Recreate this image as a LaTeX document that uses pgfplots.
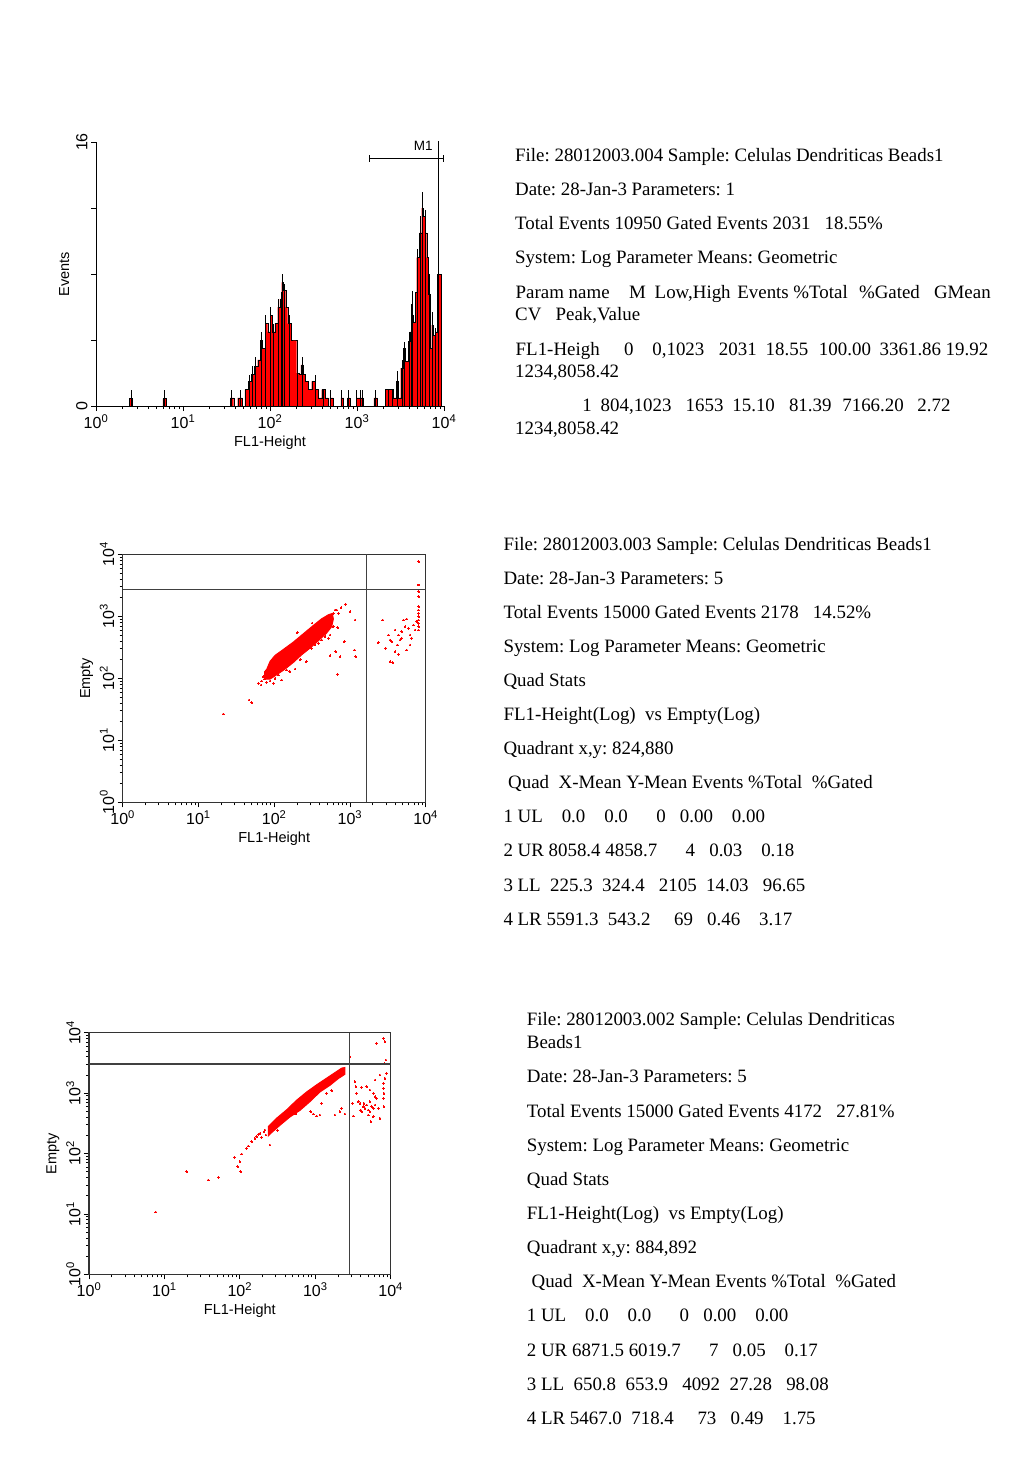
\documentclass[border=0pt]{standalone}
\usepackage{fontspec}
\setmainfont{Liberation Serif}
\setsansfont{Liberation Sans}
\usepackage{pgfplots}
\pgfplotsset{compat=1.18}
\frenchspacing
\newcommand\tf{\fontsize{18.9}{22}\selectfont}
\newcommand\tok[2]{\rlap{\hspace*{#1pt}#2}}
\newcommand\dec[1]{10\textsuperscript{#1}}
\pgfplotsset{
  facs/.style={
    scale only axis, xmin=0, xmax=1024,
    xtick={0,256,512,768,1024},
    xticklabels={\dec{0},\dec{1},\dec{2},\dec{3},\dec{4}},
    minor xtick={77.1,122.1,154.1,178.9,199.2,216.3,231.2,244.3,333.1,378.1,410.1,434.9,455.2,472.3,487.2,500.3,589.1,634.1,666.1,690.9,711.2,728.3,743.2,756.3,845.1,890.1,922.1,946.9,967.2,984.3,999.2,1012.3},
    tick align=outside, xtick pos=left, ytick pos=left,
    major tick length=5pt, minor tick length=3pt,
    every tick/.style={black, line width=0.8pt},
    ticklabel style={font=\fontsize{16}{18}\sffamily},
    label style={font=\fontsize{14.5}{17}\sffamily},
    yticklabel style={rotate=90, anchor=south},
    xlabel={FL1-Height},
    clip mode=individual,
  },
  scat/.style={
    facs, ymin=0, ymax=1024,
    ytick={0,256,512,768,1024},
    yticklabels={\dec{0},\dec{1},\dec{2},\dec{3},\dec{4}},
    minor ytick={77.1,122.1,154.1,178.9,199.2,216.3,231.2,244.3,333.1,378.1,410.1,434.9,455.2,472.3,487.2,500.3,589.1,634.1,666.1,690.9,711.2,728.3,743.2,756.3,845.1,890.1,922.1,946.9,967.2,984.3,999.2,1012.3},
    axis line style={black!80, line width=1.3pt},
    ylabel={Empty},
  },
  dots/.style={red, only marks, mark=*, mark size=0.9pt, mark options={fill=red, draw=red, line width=0pt}},
  quad/.style={black!75, line width=1.3pt, mark=none},
}
\begin{document}
\begin{tikzpicture}
\path[use as bounding box] (0,0) rectangle (1024pt,-1479pt);

% ---------------- Histogram ----------------
\begin{axis}[facs, at={(96pt,-406pt)}, anchor=south west,
  width=348pt, height=264pt, ymin=0, ymax=16,
  axis x line*=bottom, axis y line*=left,
  axis line style={-, black, line width=1pt},
  ytick={0,4,8,12,16}, yticklabels={0,,,,16},
  ylabel={Events}]
\addplot[const plot, fill=red, draw=black, line width=0.35pt] coordinates {
(98.6,0.45)(107.4,0)(197.1,0.45)(206,0)(394.3,0.5)(405.2,0)(417,0.5)(430.5,0)
(438.4,1.0)(448.1,1.5)(456.1,1.9)(465.8,2.4)(475.8,2.8)(482.6,4.0)(489.3,3.5)
(497.3,5.0)(505.2,4.5)(512,5.5)(518.8,4.5)(526.7,5.0)(534.6,6.0)(541.4,6.5)
(546.4,7.5)(551.1,7.0)(558.2,6.0)(564.1,5.0)(573.8,4.0)(583.5,4.0)(590.6,2.0)
(597.3,1.9)(603.2,2.5)(610,1.9)(615,1.5)(623.8,1.0)(634.7,1.5)(644.4,1.0)
(654.1,0.5)(664.1,1.0)(673.8,0.5)(683.5,0)(688.5,0.5)(697.4,0)(720.9,0.5)
(728.3,0)(740,0.5)(747.4,0)(766.5,0.5)(787.1,0)(818,0.5)(828.3,0)(850.4,1.0)
(874.8,0.5)(882.8,1.5)(889.5,0.5)(896.6,2.3)(904.2,3.5)(909.2,2.7)(918.9,3.9)
(923.9,4.5)(928.9,5.5)(933.6,5.1)(938.7,6.9)(943.7,9.0)(951.3,10.5)(958.4,12.0)
(963.1,11.5)(968.1,10.5)(973.1,9.0)(977.8,6.8)(982.8,3.5)(987.8,4.9)(992.5,4.3)
(997.5,4.5)(1004.3,8.0)(1015.2,0)} \closedcycle;
\addplot[ycomb, black, line width=0.45pt, mark=none, restrict y to domain*=0:16.2] coordinates {
(103,1)(202.1,1)(399.3,1)(423.7,1)(451.1,1.9)(459.9,2.4)(469.9,3)(485.5,4.5)
(499.3,5.5)(512,6)(522.9,5)(536.4,6.5)(544.4,6.9)(547.3,8)(554.1,7.4)(567.9,5.5)
(593.5,3)(607,3)(644.4,1.9)(668.8,1)(688.5,1)(723,1)(742.4,1)(767.1,1)(776.8,1)
(784.8,1)(822.4,1)(859.2,1)(871,1)(886.6,2.1)(900.4,2.8)(907.2,3.9)(921.9,4.5)
(928.9,6.2)(931.9,7)(945.4,9.5)(955.4,11.5)(960.1,13)(968.1,11.9)(980.7,8)
(990.8,5.7)(998.4,4.7)(1006.3,10.4)(1008.4,1234)};
\addplot[black, line width=0.9pt, mark=none, |-|] coordinates {(804,15.0)(1023,15.0)};
\node[font=\fontsize{13.5}{15}\sffamily] at (axis cs:963,15.75) {M1};
\end{axis}

% ---------------- Scatter 1 ----------------
\begin{axis}[scat, at={(122.7pt,-802.3pt)}, anchor=south west, width=303pt, height=248pt]
\addplot[fill=red, draw=red, line width=1pt] coordinates {
(480,540)(486.6,548.6)(497.9,581.7)(514.8,606.5)(542.9,631.2)(576.7,661.5)(610.5,695.9)
(644.3,730.3)(672.5,757.8)(695.0,774.3)(708.6,779.9)(711.9,756.8)(706.3,725.3)
(689.4,699.3)(661.2,667.0)(633.1,636.7)(604.9,609.2)(576.7,577.6)(548.6,550.0)
(520.4,526.6)(497.9,508.7)(480,508.7)} -- cycle;
\addplot[dots] coordinates {
(458.5,491.2)(469.7,500.8)(478.7,509.1)(467.5,484.3)(486.6,495.3)(497.9,500.8)
(509.2,491.2)(537.3,505.0)(486.6,525.6)(475.4,518.7)(514.8,511.8)(526.1,525.6)
(554.2,546.2)(582.4,550.3)(426.9,422.4)(435.9,411.4)(340.2,364.6)
(717.6,794.0)(723.2,794.0)(737.9,803.6)(753.7,817.4)(728.9,780.2)(768.3,787.1)
(785.2,752.7)(712.0,725.2)(726.6,721.0)(700.7,690.7)(683.8,683.9)(672.5,670.1)
(650.0,649.5)(661.3,656.3)(638.7,635.7)(695.1,677.0)(749.2,663.2)(700.7,605.4)
(719.9,621.9)(734.5,601.3)(783.0,628.8)(787.5,601.3)(726.6,528.3)(712.0,780.2)
(704.1,770.6)(620,580)(600,590)(565,540)(530,560)(505,560)(640,740)(590,700)
(878.7,752.7)(864.1,659.1)(903.5,670.1)(909.2,663.2)(888.9,635.7)(920.4,621.9)
(931.7,610.9)(903.5,580.6)(912.5,576.5)(928.3,649.5)(937.3,670.1)(942.9,704.5)
(948.6,752.7)(959.9,756.8)(954.2,725.2)(965.5,718.3)(971.1,690.7)(976.8,677.0)
(982.4,732.0)(988.0,711.4)(993.6,745.8)(971.1,649.5)(959.9,628.8)(942.9,677.0)
(931.7,690.7)(920.4,711.4)(897.9,690.7)
(1000,849.0)(1000,807.7)(1000,794.0)(1000,780.2)(1000,766.4)(1000,752.7)
(1000,738.9)(1000,725.2)(1000,711.4)(1000,993.7)(1000,897.3)(1000,870)};
\addplot[quad] coordinates {(824,0)(824,1024)};
\addplot[quad] coordinates {(0,880)(1024,880)};
\end{axis}

% ---------------- Scatter 2 ----------------
\begin{axis}[scat, at={(89pt,-1274.3pt)}, anchor=south west, width=301.7pt, height=241.6pt]
\addplot[fill=red, draw=red, line width=1pt] coordinates {
(608.7,626.6)(637.0,661.9)(670.9,697.3)(704.8,738)(738.8,773)(772.7,803.2)
(806.6,831.5)(840.6,859.7)(857.5,873.9)(868.8,876.7)(868.8,848)(846.2,829.6)
(818.0,801.3)(784.0,773.1)(750.1,732)(716.1,695)(682.2,667.1)(648.3,631.8)
(620.0,600.7)(608.7,586.6)} -- cycle;
\addplot[dots] coordinates {
(569.1,583.3)(574.7,593.2)(580.4,597.4)(594.0,604.5)(600.7,590.4)(586.0,580.5)
(563.4,576.3)(552.1,562.1)(540.8,543.8)(535.1,533.9)(518.1,509.9)(493.3,495.7)
(512.5,477.4)(504.6,456.2)(514.8,435.0)(331.5,435.0)(405.0,399.7)(438.9,411.0)
(226.3,264.0)(614.3,548.0)(597.3,611.6)(640,610)(700,680)(760,760)(800,800)(680,700)
(752.3,689.3)(761.4,679.4)(772.7,670.9)(784.0,675.1)(806.6,767.0)(789.7,724.6)
(823.6,778.3)(851.9,689.3)(857.5,703.4)(868.8,679.4)(834.9,675.1)(885.8,922.4)
(863.2,858.8)(849.6,863.0)
(902.8,816.4)(906.2,795.2)(925.4,792.4)(942.4,795.2)(953.7,781.1)(965.0,767.0)
(970.7,752.8)(976.3,745.8)(953.7,731.7)(942.4,717.5)(931.1,710.5)(919.8,724.6)
(914.1,731.7)(922.0,696.3)(936.7,703.4)(948.0,696.3)(953.7,689.3)(959.4,710.5)
(970.7,717.5)(982.0,703.4)(987.6,661.0)(957.1,646.9)(965.0,668.1)(948.0,675.1)
(897.1,670.9)(893.7,724.6)(908.4,767.0)(987.6,844.7)(970.7,823.5)(999.0,745.8)
(1001.2,710.5)(999.0,788.2)(1001.2,767.0)(999.0,809.3)(1004.6,830.5)(1010.3,851.7)
(1002.3,894.1)(1008.0,908.2)(976.3,978.9)(1004.6,985.9)(999.0,1000.1)(925.4,689.3)
(933.3,724.6)(965.0,703.4)};
\addplot[quad] coordinates {(884,0)(884,1024)};
\addplot[quad] coordinates {(0,892)(1024,892)};
\end{axis}

% ---------------- Text block 1 ----------------
\begin{scope}[every node/.style={anchor=base west, inner sep=0pt, font=\tf}]
\node at (515pt,-161.7pt) {File: 28012003.004 Sample: Celulas Dendriticas Beads1};
\node at (515pt,-195.7pt) {Date: 28-Jan-3 Parameters: 1};
\node at (515pt,-230pt) {Total Events 10950 Gated Events 2031\ \ \ 18.55\%};
\node at (515pt,-263.7pt) {System: Log Parameter Means: Geometric};
\node at (515pt,-298.3pt) {\tok{0}{Param name}\tok{113.3}{M}\tok{139}{Low,High}\tok{221.7}{Events}\tok{277.7}{\%Total}\tok{343.3}{\%Gated}\tok{418.3}{GMean}};
\node at (515pt,-320.7pt) {CV\ \ \ Peak,Value};
\node at (515pt,-355pt) {\tok{0}{FL1-Heigh}\tok{108.3}{0}\tok{136.7}{0,1023}\tok{203.3}{2031}\tok{250}{18.55}\tok{303.3}{100.00}\tok{364}{3361.86}\tok{430}{19.92}};
\node at (515pt,-377.3pt) {1234,8058.42};
\node at (515pt,-411.7pt) {\tok{66.7}{1}\tok{85}{804,1023}\tok{170}{1653}\tok{216.7}{15.10}\tok{273.3}{81.39}\tok{326.7}{7166.20}\tok{401.7}{2.72}};
\node at (515pt,-434pt) {1234,8058.42};

% ---------------- Text block 2 ----------------
\node at (503.3pt,-550pt) {File: 28012003.003 Sample: Celulas Dendriticas Beads1};
\node at (503.3pt,-584.1pt) {Date: 28-Jan-3 Parameters: 5};
\node at (503.3pt,-618.2pt) {Total Events 15000 Gated Events 2178\ \ \ 14.52\%};
\node at (503.3pt,-652.3pt) {System: Log Parameter Means: Geometric};
\node at (503.3pt,-686.4pt) {Quad Stats};
\node at (503.3pt,-720.5pt) {FL1-Height(Log)\ \ vs Empty(Log)};
\node at (503.3pt,-754.6pt) {Quadrant x,y: 824,880};
\node at (503.3pt,-788.7pt) {\ Quad\ \ X-Mean Y-Mean Events \%Total\ \ \%Gated};
\node at (503.3pt,-822.8pt) {1 UL\ \ \ \ 0.0\ \ \ \ 0.0\ \ \ \ \ \ 0\ \ \ 0.00\ \ \ \ 0.00};
\node at (503.3pt,-856.9pt) {2 UR 8058.4 4858.7\ \ \ \ \ \ 4\ \ \ 0.03\ \ \ \ 0.18};
\node at (503.3pt,-891pt) {3 LL\ \ 225.3\ \ 324.4\ \ \ 2105\ \ 14.03\ \ \ 96.65};
\node at (503.3pt,-925.1pt) {4 LR 5591.3\ \ 543.2\ \ \ \ \ 69\ \ \ 0.46\ \ \ \ 3.17};

% ---------------- Text block 3 ----------------
\node at (526.7pt,-1025.7pt) {File: 28012003.002 Sample: Celulas Dendriticas};
\node at (526.7pt,-1048.3pt) {Beads1};
\node at (526.7pt,-1082.7pt) {Date: 28-Jan-3 Parameters: 5};
\node at (526.7pt,-1117pt) {Total Events 15000 Gated Events 4172\ \ \ 27.81\%};
\node at (526.7pt,-1151pt) {System: Log Parameter Means: Geometric};
\node at (526.7pt,-1185pt) {Quad Stats};
\node at (526.7pt,-1219.2pt) {FL1-Height(Log)\ \ vs Empty(Log)};
\node at (526.7pt,-1253.4pt) {Quadrant x,y: 884,892};
\node at (526.7pt,-1287.6pt) {\ Quad\ \ X-Mean Y-Mean Events \%Total\ \ \%Gated};
\node at (526.7pt,-1321.8pt) {1 UL\ \ \ \ 0.0\ \ \ \ 0.0\ \ \ \ \ \ 0\ \ \ 0.00\ \ \ \ 0.00};
\node at (526.7pt,-1356pt) {2 UR 6871.5 6019.7\ \ \ \ \ \ 7\ \ \ 0.05\ \ \ \ 0.17};
\node at (526.7pt,-1390.2pt) {3 LL\ \ 650.8\ \ 653.9\ \ \ 4092\ \ 27.28\ \ \ 98.08};
\node at (526.7pt,-1424.4pt) {4 LR 5467.0\ \ 718.4\ \ \ \ \ 73\ \ \ 0.49\ \ \ \ 1.75};
\end{scope}
\end{tikzpicture}
\end{document}
